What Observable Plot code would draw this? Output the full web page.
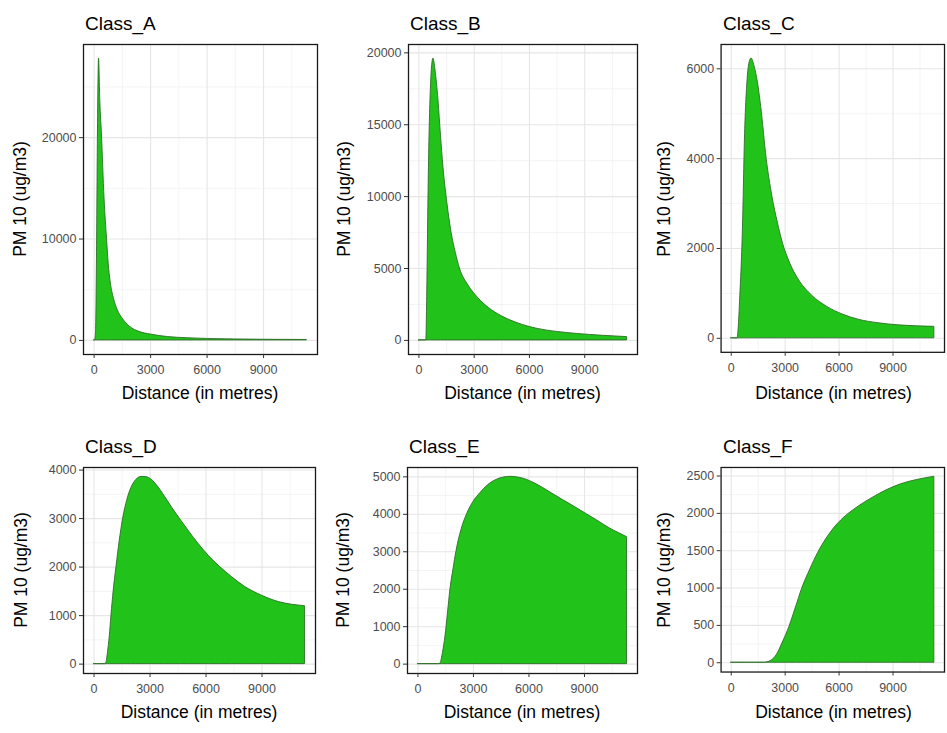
<!DOCTYPE html>
<html><head><meta charset="utf-8">
<script src="https://cdn.jsdelivr.net/npm/d3@7"></script>
<script src="https://cdn.jsdelivr.net/npm/@observablehq/plot@0.6"></script>
<style>
html,body{margin:0;padding:0;background:#fff;overflow:hidden;}
#root{position:relative;width:947px;height:733px;overflow:hidden;font-family:"Liberation Sans",Arial,sans-serif;}
.t{position:absolute;white-space:nowrap;color:#000;line-height:1;}
.panel{position:absolute;}
</style></head><body><div id="root"></div>
<script>
// ---- data ----
const classNames = ["Class_A", "Class_B", "Class_C", "Class_D", "Class_E", "Class_F"];
const xTitle = "Distance (in metres)";
const yTitle = "PM 10 (ug/m3)";

const distA = [0, 50, 100, 150, 200, 260, 330, 410, 555, 685, 780, 900, 1055, 1250, 1520, 1900, 2440, 3000, 3930, 5000, 6000, 7000, 8000, 9000, 10000, 11300];
const pmA   = [0, 0, 800, 8000, 20000, 27800, 23500, 20500, 13900, 10000, 7400, 5500, 4100, 3000, 2130, 1350, 820, 580, 330, 210, 145, 107, 82, 65, 53, 42];

const distB = [0, 400, 450, 500, 550, 600, 650, 700, 790, 900, 1061, 1200, 1330, 1550, 1777, 2000, 2225, 2700, 3215, 3800, 4470, 5400, 6447, 7500, 8600, 10000, 11300];
const pmB   = [0, 0, 3000, 8000, 12500, 15500, 17500, 18800, 19600, 18800, 16700, 14200, 12070, 9500, 7470, 6100, 5000, 3800, 2950, 2250, 1700, 1180, 800, 590, 450, 320, 230];

const distC = [0, 350, 410, 500, 645, 770, 900, 1000, 1130, 1300, 1500, 1668, 1970, 2293, 2600, 2830, 3300, 3730, 4500, 5340, 6200, 7130, 8200, 9300, 10300, 11300];
const pmC   = [0, 0, 200, 900, 2360, 4550, 5700, 6100, 6230, 6050, 5650, 5150, 4000, 3150, 2560, 2180, 1650, 1320, 950, 700, 530, 410, 335, 290, 268, 255];

const distD = [0, 600, 663, 750, 843, 933, 1050, 1200, 1380, 1560, 1780, 2000, 2250, 2545, 2800, 3083, 3400, 3800, 4200, 4610, 5100, 5595, 6150, 6760, 7400, 8100, 9000, 9900, 10600, 11300];
const pmD   = [0, 0, 30, 250, 570, 1000, 1500, 2000, 2550, 3000, 3380, 3630, 3790, 3860, 3855, 3800, 3670, 3450, 3215, 2990, 2730, 2480, 2230, 2000, 1790, 1590, 1410, 1280, 1225, 1195];

const distE = [0, 1150, 1219, 1350, 1487, 1620, 1756, 1920, 2078, 2350, 2653, 3000, 3367, 3800, 4300, 4978, 5700, 6412, 7100, 7840, 8500, 9097, 9700, 10348, 10850, 11300];
const pmE   = [0, 0, 20, 300, 740, 1350, 2000, 2530, 3000, 3580, 4000, 4330, 4560, 4780, 4930, 5000, 4950, 4800, 4600, 4380, 4190, 4010, 3830, 3630, 3500, 3390];

const distF = [0, 1900, 2000, 2250, 2525, 2850, 3235, 3600, 3944, 4400, 4834, 5300, 5724, 6250, 6790, 7400, 8032, 8700, 9455, 10400, 11300];
const pmF   = [0, 0, 5, 30, 100, 260, 480, 740, 990, 1250, 1470, 1660, 1800, 1935, 2040, 2140, 2230, 2315, 2390, 2450, 2490];

const xTicks  = [0, 3000, 6000, 9000];
const yTicksA = [0, 10000, 20000];
const yTicksB = [0, 5000, 10000, 15000, 20000];
const yTicksC = [0, 2000, 4000, 6000];
const yTicksD = [0, 1000, 2000, 3000, 4000];
const yTicksE = [0, 1000, 2000, 3000, 4000, 5000];
const yTicksF = [0, 500, 1000, 1500, 2000, 2500];

// ---- layout ----
const FONT = '"Liberation Sans", Arial, sans-serif';
const fillGreen = "#21c31a";
const panels = [
  {name: classNames[0], dist: distA, pm: pmA, yTicks: yTicksA, fx0: 83,  fx1: 317, fy0: 44,  fy1: 354, yLabX: 21},
  {name: classNames[1], dist: distB, pm: pmB, yTicks: yTicksB, fx0: 408, fx1: 637, fy0: 44,  fy1: 354, yLabX: 345},
  {name: classNames[2], dist: distC, pm: pmC, yTicks: yTicksC, fx0: 721, fx1: 946, fy0: 44,  fy1: 354, yLabX: 665},
  {name: classNames[3], dist: distD, pm: pmD, yTicks: yTicksD, fx0: 83,  fx1: 315, fy0: 467, fy1: 673, yLabX: 22},
  {name: classNames[4], dist: distE, pm: pmE, yTicks: yTicksE, fx0: 407, fx1: 637, fy0: 467, fy1: 673, yLabX: 344},
  {name: classNames[5], dist: distF, pm: pmF, yTicks: yTicksF, fx0: 721, fx1: 946, fy0: 467, fy1: 673, yLabX: 665}
];

const root = document.getElementById("root");
const mL = 60, mR = 3, mT = 3, mB = 30;

function midpoints(t) { return d3.pairs(t).map(([a, b]) => (a + b) / 2); }

for (const p of panels) {
  const data = p.dist.map((d, i) => ({d, v: p.pm[i]}));
  const [x0, x1] = d3.extent(p.dist);
  const xPad = (x1 - x0) * 0.05;
  const yMax = d3.max(p.pm);
  const yPad = yMax * 0.05;
  const xDom = [x0 - xPad, x1 + xPad];
  const yDom = [-yPad, yMax + yPad];
  const xStep = xTicks[1] - xTicks[0];
  const yStep = p.yTicks[1] - p.yTicks[0];
  const xMinor = midpoints(xTicks.concat([xTicks[xTicks.length - 1] + xStep])).filter(v => v > xDom[0] && v < xDom[1]);
  const yMinor = midpoints(p.yTicks.concat([p.yTicks[p.yTicks.length - 1] + yStep])).filter(v => v > yDom[0] && v < yDom[1]);
  const width = (p.fx1 - p.fx0) + mL + mR;
  const height = (p.fy1 - p.fy0) + mT + mB;
  const chart = Plot.plot({
    width, height,
    marginLeft: mL, marginRight: mR, marginTop: mT, marginBottom: mB,
    style: {fontFamily: FONT, fontSize: "12.5px", background: "transparent"},
    x: {domain: xDom},
    y: {domain: yDom},
    marks: [
      Plot.gridX(xMinor, {stroke: "#ededed", strokeOpacity: 1, strokeWidth: 0.6}),
      Plot.gridY(yMinor, {stroke: "#ededed", strokeOpacity: 1, strokeWidth: 0.6}),
      Plot.gridX(xTicks, {stroke: "#e6e6e6", strokeOpacity: 1, strokeWidth: 1.1}),
      Plot.gridY(p.yTicks, {stroke: "#e6e6e6", strokeOpacity: 1, strokeWidth: 1.1}),
      Plot.areaY(data, {x: "d", y: "v", fill: fillGreen, stroke: "#2e6e27", strokeWidth: 0.9, curve: "monotone-x"}),
      Plot.frame({stroke: "#1a1a1a", strokeWidth: 1.3}),
      Plot.axisX(xTicks, {tickFormat: "d", tickSize: 4, tickPadding: 7, label: null, stroke: "#333", fill: "#4d4d4d", fontSize: 12.5}),
      Plot.axisY(p.yTicks, {tickFormat: "d", tickSize: 4, tickPadding: 3, label: null, stroke: "#333", fill: "#4d4d4d", fontSize: 12.5})
    ]
  });
  const holder = document.createElement("div");
  holder.className = "panel";
  holder.style.left = (p.fx0 - mL) + "px";
  holder.style.top = (p.fy0 - mT) + "px";
  holder.appendChild(chart);
  root.appendChild(holder);

  // title
  const t = document.createElement("div");
  t.className = "t";
  t.textContent = p.name;
  t.style.fontSize = "19px";
  t.style.left = (p.fx0 + 2) + "px";
  t.style.top = (p.fy0 - 30) + "px";
  root.appendChild(t);

  // x title
  const xt = document.createElement("div");
  xt.className = "t";
  xt.textContent = xTitle;
  xt.style.fontSize = "17.5px";
  xt.style.left = ((p.fx0 + p.fx1) / 2) + "px";
  xt.style.top = (p.fy1 + 31) + "px";
  xt.style.transform = "translateX(-50%)";
  root.appendChild(xt);

  // y title
  const yt = document.createElement("div");
  yt.className = "t";
  yt.textContent = yTitle;
  yt.style.fontSize = "17.5px";
  yt.style.left = p.yLabX + "px";
  yt.style.top = ((p.fy0 + p.fy1) / 2) + "px";
  yt.style.transform = "translate(-50%,-50%) rotate(-90deg)";
  root.appendChild(yt);
}
</script></body></html>
